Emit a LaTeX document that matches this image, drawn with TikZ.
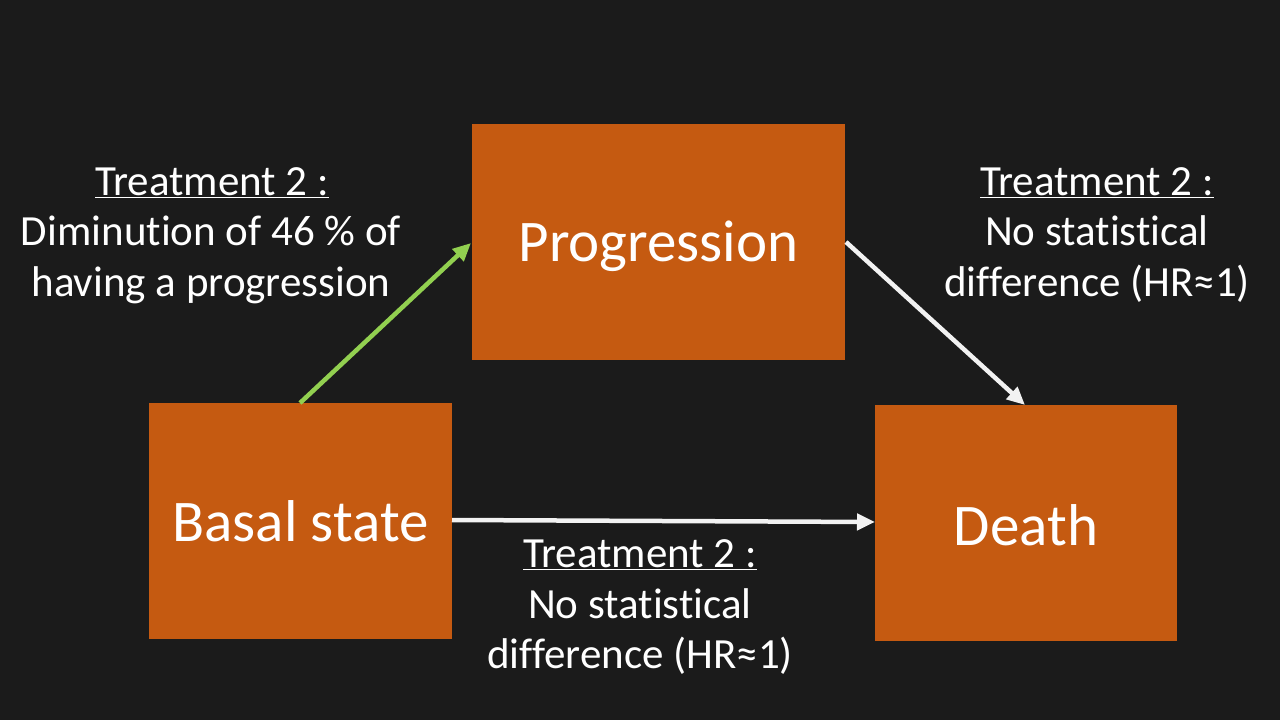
\documentclass[tikz,border=0pt]{standalone}
\usepackage{fontspec}
\setmainfont[Ligatures=NoCommon]{Carlito}
\usetikzlibrary{arrows.meta}
\definecolor{bg}{HTML}{1B1B1B}
\definecolor{boxor}{HTML}{C55A11}
\definecolor{arrgreen}{HTML}{92D050}
\definecolor{arrwhite}{HTML}{F2F2F2}
\tikzset{
  statebox/.style={fill=boxor, draw=none, text=white, font=\fontsize{59}{70}\selectfont, inner sep=0pt},
  lbl/.style={text=white, font=\fontsize{43}{50}\selectfont, anchor=base, inner sep=0pt},
  conn/.style={line width=4.5pt, -{Triangle[length=18pt,width=16pt]}, shorten >=0pt},
}
\newcommand{\ulbl}[1]{\underline{#1}}
\newcommand{\lowertext}[2]{\raisebox{-#1}[\height][\depth]{#2}}
\begin{document}
\begin{tikzpicture}[x=1pt,y=-1pt]
\fill[bg] (0,0) rectangle (1280,720);
\useasboundingbox (0,0) rectangle (1280,720);
% boxes
\node[statebox, minimum width=373pt, minimum height=236pt] (prog) at (658.5,242) {\lowertext{4pt}{Progression}};
\node[statebox, minimum width=303pt, minimum height=236pt] (basal) at (300.5,521) {Basal state};
\node[statebox, minimum width=302pt, minimum height=236pt] (death) at (1026,523) {\lowertext{2pt}{Death}};
% connector anchor points
\coordinate (gs) at (300,403);
\coordinate (ge) at (471,243);
\coordinate (ws) at (846,242);
\coordinate (we) at (1025,405);
\coordinate (hs) at (452,520);
\coordinate (he) at (875,522);
\draw[conn, arrgreen] (gs) -- (ge);
\draw[conn, arrwhite] (ws) -- (we);
\draw[conn, arrwhite] (hs) -- (he);
% labels top-left
\node[lbl] (l1a) at (212,195) {\ulbl{Treatment 2 :}};
\node[lbl] (l1b) at (211,245) {Diminution of 46 \% of};
\node[lbl] (l1c) at (211,296) {having a progression};
% labels top-right
\node[lbl] (l2a) at (1097,195) {\ulbl{Treatment 2 :}};
\node[lbl] (l2b) at (1097,245) {No statistical};
\node[lbl] (l2c) at (1097,296) {difference (HR≈1)};
% labels bottom
\node[lbl] (l3a) at (640,567) {\ulbl{Treatment 2 :}};
\node[lbl] (l3b) at (640,618) {No statistical};
\node[lbl] (l3c) at (640,668) {difference (HR≈1)};
\end{tikzpicture}
\end{document}
